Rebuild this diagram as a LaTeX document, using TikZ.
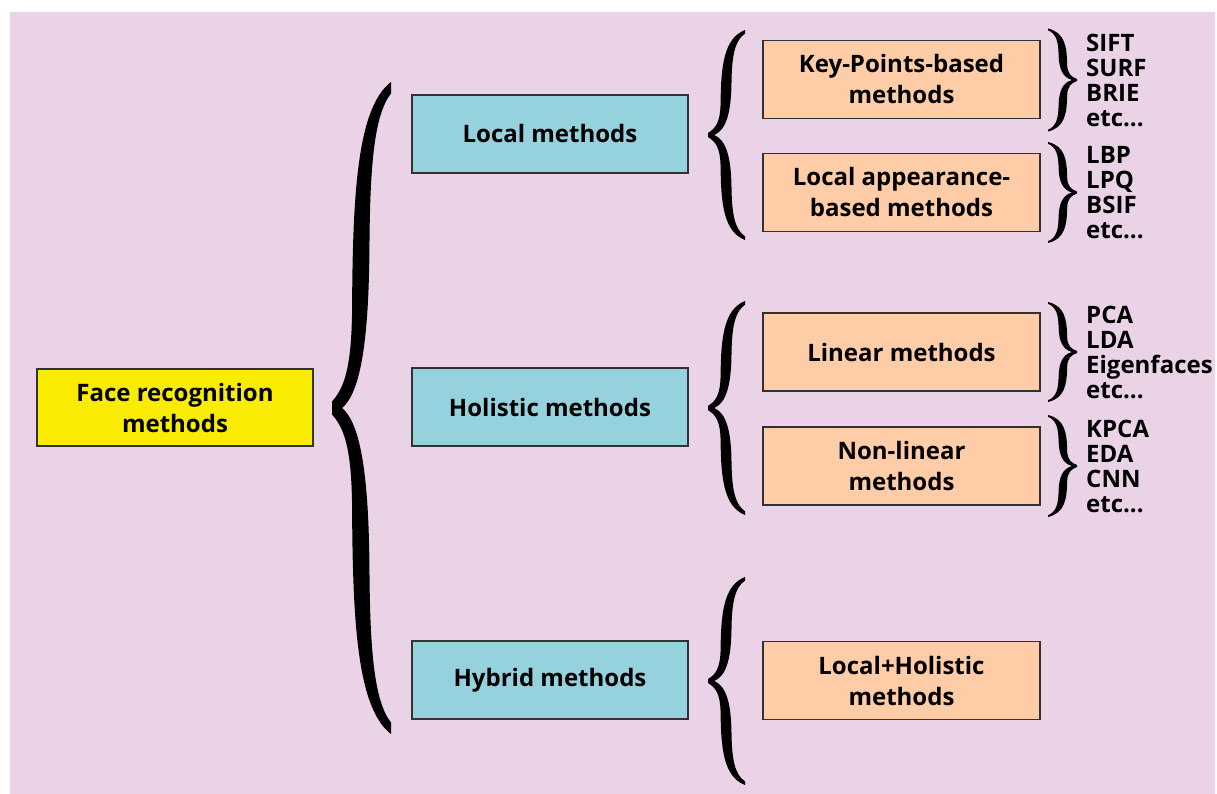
\documentclass[tikz,border=0pt]{standalone}
\usepackage{fontspec}
\setmainfont{Open Sans}
\definecolor{bgpink}{RGB}{234,211,231}
\definecolor{boxyellow}{RGB}{250,236,0}
\definecolor{boxblue}{RGB}{150,209,222}
\definecolor{boxorange}{RGB}{254,204,166}
\definecolor{boxedge}{RGB}{50,50,50}
\tikzset{
  basebox/.style={draw=boxedge, line width=1.1pt, minimum width=276pt, minimum height=78pt,
    align=center, font=\fontsize{24}{31}\selectfont\bfseries, inner sep=2pt},
  rootbox/.style={basebox, fill=boxyellow, minimum height=77pt},
  midbox/.style={basebox, fill=boxblue},
  leafbox/.style={basebox, fill=boxorange, minimum width=277pt},
  listtext/.style={anchor=west, align=left, inner sep=0pt, font=\fontsize{24}{25}\selectfont\bfseries},
  bracefill/.pic={
    \fill[black] (0,-0.02) .. controls (0.2,-0.06) and (0.33,-0.12) .. (0.34,-0.3)
      .. controls (0.35,-0.65) and (0.42,-0.92) .. (1,-1) -- (1,-0.965)
      .. controls (0.72,-0.9) and (0.645,-0.75) .. (0.635,-0.5)
      .. controls (0.625,-0.22) and (0.5,-0.05) .. (0.17,0)
      .. controls (0.5,0.05) and (0.625,0.22) .. (0.635,0.5)
      .. controls (0.645,0.75) and (0.72,0.9) .. (1,0.965) -- (1,1)
      .. controls (0.42,0.92) and (0.35,0.65) .. (0.34,0.3)
      .. controls (0.33,0.12) and (0.2,0.06) .. (0,0.02) -- cycle;
  }
}
\begin{document}
\begin{tikzpicture}[x=1pt,y=-1pt]
\useasboundingbox (0,0) rectangle (1217,794);
\fill[white] (0,0) rectangle (1217,794);
\fill[bgpink] (10,12) rectangle (1215,794);

% nodes
\node[rootbox] (face) at (175,407.5) {Face recognition\\methods};
\node[midbox] (local) at (550,134) {Local methods};
\node[midbox] (holistic) at (550,407) {Holistic methods};
\node[midbox] (hybrid) at (550,680) {Hybrid methods};
\node[leafbox] (keypoints) at (901.5,79.5) {Key-Points-based\\methods};
\node[leafbox] (localapp) at (901.5,192.5) {Local appearance-\\based methods};
\node[leafbox] (linear) at (901.5,352) {Linear methods};
\node[leafbox] (nonlinear) at (901.5,466) {Non-linear\\methods};
\node[leafbox] (localhol) at (901.5,680.5) {Local+Holistic\\methods};

\node[listtext] (kplist) at (1086,80) {SIFT\\SURF\\BRIE\\etc...};
\node[listtext] (lalist) at (1086,192.5) {LBP\\LPQ\\BSIF\\etc...};
\node[listtext] (linlist) at (1086,352) {PCA\\LDA\\Eigenfaces\\etc...};
\node[listtext] (nllist) at (1086,466) {KPCA\\EDA\\CNN\\etc...};

% braces
\pic[xscale=59, yscale=326] at (332,408) {bracefill};
\pic[xscale=37, yscale=105] at (708,135) {bracefill};
\pic[xscale=37, yscale=107] at (708,408) {bracefill};
\pic[xscale=37, yscale=104] at (708,681) {bracefill};
\pic[xscale=-29, yscale=51.5] at (1077,80) {bracefill};
\pic[xscale=-29, yscale=50.5] at (1077,192.5) {bracefill};
\pic[xscale=-29, yscale=50] at (1077,352) {bracefill};
\pic[xscale=-29, yscale=51] at (1077,466) {bracefill};
\end{tikzpicture}
\end{document}
